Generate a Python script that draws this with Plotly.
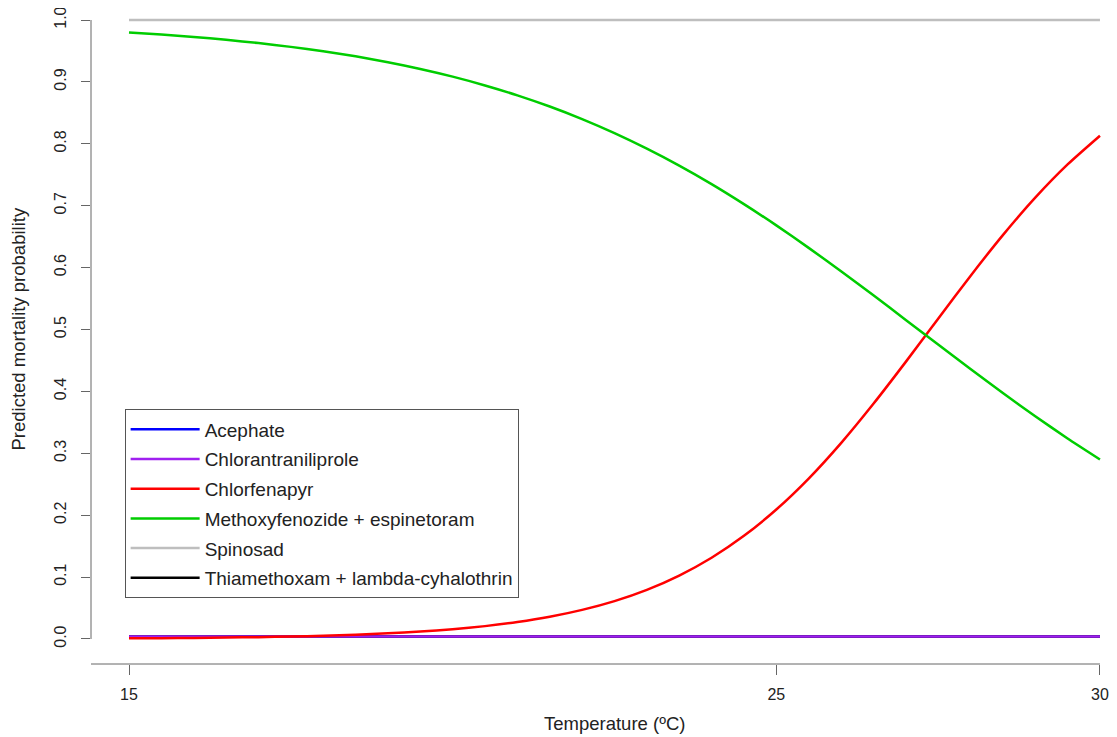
import plotly.graph_objects as go

# ---------------- data ----------------
temperature = [15, 15.5, 16, 16.5, 17, 17.5, 18, 18.5, 19, 19.5, 20, 20.5, 21, 21.5,
               22, 22.5, 23, 23.5, 24, 24.5, 25, 25.5, 26, 26.5, 27, 27.5, 28, 28.5,
               29, 29.5, 30]

acephate = [0.004, 0.004, 0.004, 0.004, 0.004, 0.004, 0.004, 0.004, 0.004, 0.004,
            0.004, 0.004, 0.004, 0.004, 0.004, 0.004, 0.004, 0.004, 0.004, 0.004,
            0.004, 0.004, 0.004, 0.004, 0.004, 0.004, 0.004, 0.004, 0.004, 0.004,
            0.004]
chlorantraniliprole = [0.004, 0.004, 0.004, 0.004, 0.004, 0.004, 0.004, 0.004, 0.004,
                       0.004, 0.004, 0.004, 0.004, 0.004, 0.004, 0.004, 0.004, 0.004,
                       0.004, 0.004, 0.004, 0.004, 0.004, 0.004, 0.004, 0.004, 0.004,
                       0.004, 0.004, 0.004, 0.004]
chlorfenapyr = [0.001, 0.0013, 0.0017, 0.0023, 0.003, 0.004, 0.0052, 0.0069, 0.0091,
                0.012, 0.0158, 0.0208, 0.0274, 0.0359, 0.047, 0.0612, 0.0794, 0.1025,
                0.1313, 0.1667, 0.2092, 0.2592, 0.3165, 0.380, 0.4477, 0.5175, 0.5866,
                0.6525, 0.713, 0.7667, 0.8131]
methoxyfenozide = [0.980, 0.9766, 0.9727, 0.9681, 0.9627, 0.9566, 0.9495, 0.9413,
                   0.9318, 0.9209, 0.9085, 0.8943, 0.8783, 0.8602, 0.8399, 0.8172,
                   0.7921, 0.7647, 0.7348, 0.7025, 0.6682, 0.6319, 0.5941, 0.5552,
                   0.5155, 0.4757, 0.4361, 0.3974, 0.3598, 0.3240, 0.2901]
spinosad = [1.0, 1.0, 1.0, 1.0, 1.0, 1.0, 1.0, 1.0, 1.0, 1.0, 1.0, 1.0, 1.0, 1.0, 1.0,
            1.0, 1.0, 1.0, 1.0, 1.0, 1.0, 1.0, 1.0, 1.0, 1.0, 1.0, 1.0, 1.0, 1.0, 1.0,
            1.0]
thiamethoxam = [0.004, 0.004, 0.004, 0.004, 0.004, 0.004, 0.004, 0.004, 0.004, 0.004,
                0.004, 0.004, 0.004, 0.004, 0.004, 0.004, 0.004, 0.004, 0.004, 0.004,
                0.004, 0.004, 0.004, 0.004, 0.004, 0.004, 0.004, 0.004, 0.004, 0.004,
                0.004]

series_names = ["Acephate", "Chlorantraniliprole", "Chlorfenapyr",
                "Methoxyfenozide + espinetoram", "Spinosad",
                "Thiamethoxam + lambda-cyhalothrin"]
series_values = [acephate, chlorantraniliprole, chlorfenapyr,
                 methoxyfenozide, spinosad, thiamethoxam]
series_colors = ["#0000FF", "#A020F0", "#FF0000", "#00CD00", "#BEBEBE", "#000000"]
draw_order = [0, 5, 1, 2, 3, 4]

x_ticks = [15, 25, 30]
y_ticks = [0.0, 0.1, 0.2, 0.3, 0.4, 0.5, 0.6, 0.7, 0.8, 0.9, 1.0]
y_ticktext = ["0.0", "0.1", "0.2", "0.3", "0.4", "0.5", "0.6", "0.7", "0.8", "0.9", "1.0"]

x_title = "Temperature (ºC)"
y_title = "Predicted mortality probability"

# ---------------- figure ----------------
FONT = "Liberation Sans, Arial, sans-serif"
AXIS_COL = "#666666"

fig = go.Figure()
for i in draw_order:
    fig.add_trace(go.Scatter(
        x=temperature, y=series_values[i], name=series_names[i],
        mode="lines", line=dict(color=series_colors[i], width=2.5, shape="spline",
                                smoothing=0.6),
        legendrank=i + 1, legendgroup=series_names[i],
    ))

x_range = [14.413, 30.155]
y_range = [-0.0404, 1.0194]

fig.update_layout(
    width=1117, height=737,
    margin=dict(l=83, r=15, t=0, b=81, pad=0, autoexpand=False),
    plot_bgcolor="white", paper_bgcolor="white",
    font=dict(family=FONT, color="#222222"),
    showlegend=True,
    legend=dict(
        x=0.033, y=0.388, xanchor="left", yanchor="top",
        bordercolor="#555555", borderwidth=1, bgcolor="white",
        font=dict(size=19, family=FONT, color="#222222"),
        tracegroupgap=2, itemwidth=69,
    ),
    xaxis=dict(
        range=x_range, tickvals=x_ticks, ticks="outside", ticklen=10,
        tickcolor=AXIS_COL, tickwidth=1, showgrid=False, zeroline=False,
        showline=False, tickfont=dict(size=16, family=FONT, color="#222222"),
        fixedrange=True, automargin=False, ticklabelstandoff=6,
        ticklabeloverflow="allow",
    ),
    yaxis=dict(
        range=y_range, tickvals=y_ticks, ticktext=y_ticktext, tickangle=-90,
        ticks="outside", ticklen=9, tickcolor=AXIS_COL, tickwidth=1,
        showgrid=False, zeroline=False, showline=False,
        tickfont=dict(size=16, family=FONT, color="#222222"),
        fixedrange=True, automargin=False, ticklabelstandoff=9,
        ticklabeloverflow="allow",
    ),
    shapes=[
        dict(type="line", xref="x", yref="paper", x0=x_range[0], x1=30, y0=0, y1=0,
             line=dict(color=AXIS_COL, width=1)),
        dict(type="line", xref="paper", yref="y", x0=0, x1=0, y0=0, y1=1,
             line=dict(color=AXIS_COL, width=1)),
    ],
    annotations=[
        dict(text=x_title, xref="x", yref="paper", x=22.5, y=0, yshift=-59,
             xanchor="center", yanchor="middle", showarrow=False,
             font=dict(size=18.5, family=FONT, color="#222222")),
        dict(text=y_title, xref="paper", yref="y", x=0, xshift=-73, y=0.5,
             xanchor="center", yanchor="middle", textangle=-90, showarrow=False,
             font=dict(size=18.5, family=FONT, color="#222222")),
    ],
)

fig.write_html("out.html")
